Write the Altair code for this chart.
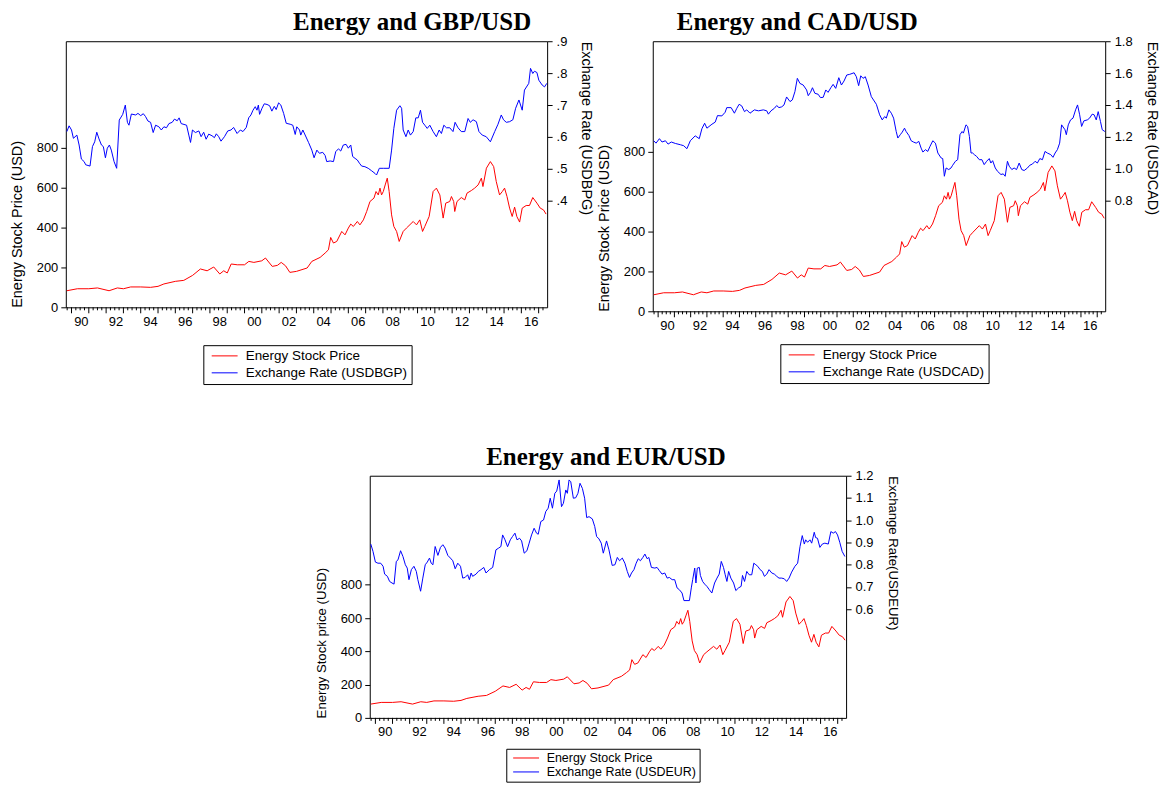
import altair as alt
import pandas as pd

# ---------------- data (decimal year, value) ----------------
energy = [
    (1989.73, 83), (1990.34, 93), (1991.00, 93), (1991.50, 97), (1992.17, 83), (1992.65, 97),
    (1993.00, 93), (1993.42, 102), (1994.00, 102), (1994.57, 100), (1995.00, 105), (1995.34, 117),
    (1996.00, 130), (1996.49, 135), (1997.00, 160), (1997.45, 192), (1997.84, 183), (1998.22, 202),
    (1998.57, 167), (1998.80, 183), (1999.00, 172), (1999.23, 217), (1999.58, 213), (2000.00, 213),
    (2000.25, 230), (2000.54, 225), (2001.00, 233), (2001.21, 247), (2001.60, 205), (2001.90, 210),
    (2002.12, 225), (2002.37, 208), (2002.62, 175), (2003.00, 180), (2003.62, 197), (2003.89, 230),
    (2004.37, 250), (2004.66, 272), (2004.85, 288), (2004.98, 350), (2005.14, 322), (2005.33, 330),
    (2005.62, 380), (2005.81, 363), (2006.00, 397), (2006.14, 417), (2006.29, 405), (2006.52, 430),
    (2006.67, 413), (2006.87, 438), (2007.06, 480), (2007.25, 530), (2007.48, 547), (2007.60, 580),
    (2007.73, 563), (2007.83, 597), (2007.92, 563), (2008.02, 580), (2008.13, 613), (2008.25, 647),
    (2008.36, 580), (2008.50, 463), (2008.63, 405), (2008.79, 380), (2008.94, 330), (2009.17, 380),
    (2009.36, 397), (2009.75, 430), (2009.94, 413), (2010.13, 438), (2010.29, 380), (2010.42, 405),
    (2010.67, 455), (2010.90, 580), (2011.09, 597), (2011.29, 563), (2011.48, 447), (2011.63, 522),
    (2011.86, 530), (2011.96, 555), (2012.09, 530), (2012.15, 480), (2012.28, 530), (2012.53, 550),
    (2012.73, 538), (2012.86, 572), (2013.11, 585), (2013.30, 597), (2013.50, 613), (2013.69, 647),
    (2013.78, 605), (2013.98, 697), (2014.21, 730), (2014.40, 705), (2014.55, 630), (2014.74, 563),
    (2014.90, 580), (2015.03, 597), (2015.17, 555), (2015.32, 497), (2015.47, 455), (2015.61, 502),
    (2015.74, 455), (2015.90, 427), (2016.05, 497), (2016.28, 510), (2016.47, 510), (2016.66, 550),
    (2016.90, 522), (2017.09, 497), (2017.28, 488), (2017.43, 467),
]

gbp = [
    (1989.73, 0.617), (1989.86, 0.635), (1990.00, 0.622), (1990.11, 0.596), (1990.31, 0.606),
    (1990.44, 0.575), (1990.57, 0.531), (1990.73, 0.523), (1990.82, 0.513), (1991.07, 0.509),
    (1991.21, 0.570), (1991.34, 0.585), (1991.46, 0.615), (1991.59, 0.594), (1991.73, 0.575),
    (1991.84, 0.570), (1991.96, 0.535), (1992.07, 0.565), (1992.19, 0.575), (1992.30, 0.559),
    (1992.46, 0.523), (1992.61, 0.502), (1992.76, 0.653), (1992.96, 0.671), (1993.11, 0.700),
    (1993.23, 0.646), (1993.32, 0.637), (1993.46, 0.672), (1993.71, 0.669), (1993.84, 0.674),
    (1994.00, 0.667), (1994.15, 0.673), (1994.28, 0.664), (1994.42, 0.650), (1994.57, 0.646),
    (1994.72, 0.614), (1994.86, 0.637), (1995.05, 0.632), (1995.19, 0.622), (1995.34, 0.632),
    (1995.49, 0.629), (1995.63, 0.642), (1995.82, 0.646), (1995.95, 0.656), (1996.11, 0.651),
    (1996.22, 0.660), (1996.34, 0.642), (1996.65, 0.637), (1996.78, 0.606), (1996.88, 0.583),
    (1996.99, 0.622), (1997.16, 0.614), (1997.36, 0.619), (1997.49, 0.601), (1997.64, 0.615),
    (1997.78, 0.593), (1997.93, 0.609), (1998.12, 0.604), (1998.26, 0.598), (1998.37, 0.610),
    (1998.51, 0.601), (1998.64, 0.587), (1998.84, 0.601), (1999.03, 0.619), (1999.22, 0.622),
    (1999.37, 0.630), (1999.57, 0.611), (1999.76, 0.622), (1999.91, 0.617), (2000.10, 0.630),
    (2000.24, 0.660), (2000.37, 0.669), (2000.49, 0.684), (2000.62, 0.695), (2000.72, 0.684),
    (2000.80, 0.700), (2000.87, 0.671), (2001.01, 0.690), (2001.14, 0.704), (2001.30, 0.702),
    (2001.45, 0.698), (2001.58, 0.681), (2001.72, 0.696), (2001.83, 0.686), (2001.97, 0.707),
    (2002.10, 0.700), (2002.26, 0.674), (2002.41, 0.643), (2002.64, 0.640), (2002.79, 0.637),
    (2002.93, 0.608), (2003.02, 0.632), (2003.18, 0.622), (2003.25, 0.606), (2003.37, 0.622),
    (2003.70, 0.583), (2003.89, 0.559), (2004.02, 0.535), (2004.18, 0.559), (2004.33, 0.549),
    (2004.52, 0.552), (2004.66, 0.542), (2004.75, 0.523), (2004.95, 0.525), (2005.14, 0.523),
    (2005.27, 0.554), (2005.43, 0.563), (2005.56, 0.556), (2005.71, 0.575), (2005.87, 0.577),
    (2006.00, 0.565), (2006.14, 0.575), (2006.25, 0.539), (2006.39, 0.533), (2006.52, 0.528),
    (2006.64, 0.518), (2006.77, 0.509), (2006.96, 0.507), (2007.15, 0.502), (2007.35, 0.494),
    (2007.54, 0.486), (2007.63, 0.481), (2007.79, 0.502), (2008.02, 0.502), (2008.36, 0.502),
    (2008.50, 0.559), (2008.63, 0.627), (2008.79, 0.684), (2008.98, 0.698), (2009.08, 0.690),
    (2009.17, 0.622), (2009.33, 0.601), (2009.46, 0.622), (2009.59, 0.606), (2009.75, 0.617),
    (2009.90, 0.660), (2010.04, 0.660), (2010.17, 0.684), (2010.29, 0.646), (2010.42, 0.637),
    (2010.56, 0.627), (2010.71, 0.637), (2010.90, 0.617), (2011.09, 0.601), (2011.25, 0.622),
    (2011.38, 0.611), (2011.52, 0.637), (2011.67, 0.629), (2011.86, 0.629), (2012.05, 0.617),
    (2012.17, 0.646), (2012.34, 0.629), (2012.53, 0.617), (2012.73, 0.617), (2012.92, 0.658),
    (2013.05, 0.646), (2013.21, 0.654), (2013.40, 0.648), (2013.55, 0.617), (2013.74, 0.606),
    (2013.97, 0.601), (2014.21, 0.585), (2014.46, 0.617), (2014.65, 0.640), (2014.84, 0.669),
    (2014.97, 0.654), (2015.13, 0.646), (2015.32, 0.648), (2015.51, 0.654), (2015.67, 0.690),
    (2015.86, 0.716), (2016.05, 0.684), (2016.18, 0.747), (2016.43, 0.768), (2016.53, 0.815),
    (2016.66, 0.799), (2016.76, 0.806), (2016.90, 0.802), (2017.01, 0.778), (2017.20, 0.763),
    (2017.34, 0.757), (2017.47, 0.768),
]

cad = [
    (1989.73, 1.175), (1989.87, 1.160), (1990.08, 1.188), (1990.24, 1.167), (1990.45, 1.175),
    (1990.61, 1.154), (1990.81, 1.167), (1991.06, 1.158), (1991.37, 1.150), (1991.57, 1.144),
    (1991.77, 1.125), (1991.98, 1.175), (1992.28, 1.206), (1992.53, 1.188), (1992.69, 1.250),
    (1992.86, 1.285), (1993.00, 1.254), (1993.31, 1.279), (1993.51, 1.292), (1993.65, 1.333),
    (1993.92, 1.331), (1994.12, 1.354), (1994.22, 1.383), (1994.49, 1.383), (1994.69, 1.348),
    (1994.84, 1.379), (1994.98, 1.404), (1995.14, 1.394), (1995.31, 1.358), (1995.45, 1.369),
    (1995.65, 1.348), (1995.92, 1.369), (1996.17, 1.363), (1996.47, 1.369), (1996.68, 1.363),
    (1996.78, 1.342), (1996.94, 1.363), (1997.15, 1.379), (1997.29, 1.396), (1997.43, 1.383),
    (1997.60, 1.388), (1997.74, 1.400), (1997.90, 1.450), (1998.11, 1.421), (1998.25, 1.431),
    (1998.41, 1.483), (1998.56, 1.567), (1998.72, 1.535), (1998.92, 1.525), (1999.13, 1.494),
    (1999.23, 1.458), (1999.37, 1.479), (1999.49, 1.508), (1999.64, 1.473), (1999.84, 1.467),
    (1999.98, 1.446), (2000.15, 1.448), (2000.31, 1.494), (2000.45, 1.479), (2000.62, 1.508),
    (2000.76, 1.529), (2000.92, 1.504), (2001.11, 1.571), (2001.27, 1.525), (2001.43, 1.550),
    (2001.60, 1.588), (2001.78, 1.592), (2002.05, 1.602), (2002.19, 1.577), (2002.33, 1.521),
    (2002.46, 1.583), (2002.60, 1.567), (2002.74, 1.577), (2002.91, 1.525), (2003.11, 1.452),
    (2003.42, 1.404), (2003.62, 1.338), (2003.78, 1.306), (2003.93, 1.327), (2004.03, 1.317),
    (2004.19, 1.369), (2004.34, 1.348), (2004.48, 1.317), (2004.64, 1.233), (2004.74, 1.192),
    (2004.89, 1.213), (2005.01, 1.229), (2005.15, 1.254), (2005.25, 1.233), (2005.42, 1.208),
    (2005.56, 1.175), (2005.70, 1.167), (2005.87, 1.160), (2006.03, 1.171), (2006.17, 1.129),
    (2006.28, 1.104), (2006.44, 1.119), (2006.58, 1.108), (2006.72, 1.140), (2006.89, 1.175),
    (2007.05, 1.160), (2007.20, 1.098), (2007.40, 1.067), (2007.50, 1.063), (2007.60, 0.952),
    (2007.71, 1.004), (2007.87, 0.994), (2008.01, 1.004), (2008.11, 1.021), (2008.28, 1.046),
    (2008.42, 1.056), (2008.56, 1.213), (2008.69, 1.233), (2008.77, 1.223), (2008.93, 1.275),
    (2009.03, 1.265), (2009.14, 1.202), (2009.24, 1.098), (2009.34, 1.098), (2009.44, 1.088),
    (2009.58, 1.077), (2009.75, 1.056), (2009.91, 1.056), (2010.05, 1.025), (2010.20, 1.046),
    (2010.36, 1.063), (2010.46, 1.035), (2010.57, 1.050), (2010.73, 1.004), (2010.87, 0.983),
    (2011.08, 0.963), (2011.22, 0.967), (2011.34, 0.952), (2011.48, 1.046), (2011.59, 1.015),
    (2011.75, 0.994), (2011.89, 1.004), (2012.04, 0.994), (2012.20, 1.035), (2012.36, 0.994),
    (2012.51, 0.988), (2012.71, 1.004), (2012.85, 1.021), (2013.02, 1.029), (2013.18, 1.046),
    (2013.32, 1.035), (2013.47, 1.063), (2013.63, 1.056), (2013.79, 1.108), (2013.93, 1.098),
    (2014.14, 1.088), (2014.28, 1.071), (2014.41, 1.098), (2014.55, 1.119), (2014.69, 1.160),
    (2014.81, 1.275), (2015.02, 1.244), (2015.10, 1.213), (2015.22, 1.275), (2015.36, 1.306),
    (2015.51, 1.317), (2015.67, 1.369), (2015.79, 1.400), (2015.92, 1.338), (2016.04, 1.265),
    (2016.18, 1.300), (2016.39, 1.306), (2016.53, 1.317), (2016.69, 1.342), (2016.81, 1.338),
    (2016.94, 1.306), (2017.06, 1.358), (2017.20, 1.296), (2017.31, 1.244), (2017.47, 1.233),
]

eur = [
    (1989.73, 0.893), (1989.86, 0.860), (1990.00, 0.812), (1990.15, 0.807), (1990.31, 0.807),
    (1990.45, 0.793), (1990.54, 0.758), (1990.70, 0.748), (1990.83, 0.725), (1990.97, 0.718),
    (1991.09, 0.713), (1991.22, 0.815), (1991.32, 0.822), (1991.47, 0.863), (1991.61, 0.837),
    (1991.75, 0.800), (1991.86, 0.785), (1991.96, 0.733), (1992.10, 0.778), (1992.25, 0.793),
    (1992.39, 0.770), (1992.48, 0.733), (1992.64, 0.681), (1992.77, 0.740), (1992.91, 0.800),
    (1993.03, 0.812), (1993.16, 0.830), (1993.26, 0.807), (1993.36, 0.800), (1993.49, 0.882),
    (1993.65, 0.842), (1993.80, 0.878), (1993.94, 0.890), (1994.07, 0.875), (1994.23, 0.842),
    (1994.38, 0.830), (1994.52, 0.818), (1994.66, 0.782), (1994.81, 0.807), (1994.97, 0.793),
    (1995.10, 0.740), (1995.24, 0.743), (1995.39, 0.755), (1995.49, 0.733), (1995.59, 0.763),
    (1995.68, 0.748), (1995.88, 0.758), (1996.01, 0.770), (1996.17, 0.778), (1996.33, 0.788),
    (1996.46, 0.763), (1996.66, 0.778), (1996.85, 0.788), (1997.04, 0.867), (1997.20, 0.875),
    (1997.33, 0.882), (1997.43, 0.934), (1997.57, 0.912), (1997.72, 0.881), (1997.88, 0.912),
    (1998.01, 0.927), (1998.15, 0.942), (1998.27, 0.912), (1998.42, 0.919), (1998.54, 0.907),
    (1998.69, 0.852), (1998.85, 0.863), (1998.98, 0.897), (1999.12, 0.934), (1999.27, 0.964),
    (1999.41, 0.942), (1999.51, 0.937), (1999.66, 0.994), (1999.82, 1.001), (1999.95, 1.039),
    (2000.09, 1.054), (2000.21, 1.099), (2000.34, 1.054), (2000.48, 1.121), (2000.59, 1.131),
    (2000.73, 1.181), (2000.87, 1.061), (2000.98, 1.076), (2001.12, 1.136), (2001.21, 1.121),
    (2001.31, 1.181), (2001.41, 1.173), (2001.56, 1.099), (2001.70, 1.101), (2001.83, 1.121),
    (2001.95, 1.166), (2002.09, 1.143), (2002.22, 1.099), (2002.34, 1.012), (2002.48, 1.016),
    (2002.67, 1.006), (2002.81, 0.972), (2002.92, 0.927), (2003.06, 0.916), (2003.19, 0.897),
    (2003.31, 0.852), (2003.39, 0.875), (2003.50, 0.907), (2003.64, 0.867), (2003.74, 0.830),
    (2003.83, 0.797), (2003.99, 0.800), (2004.13, 0.833), (2004.26, 0.818), (2004.42, 0.830),
    (2004.57, 0.807), (2004.71, 0.770), (2004.84, 0.743), (2004.96, 0.763), (2005.10, 0.778),
    (2005.23, 0.807), (2005.35, 0.827), (2005.48, 0.818), (2005.62, 0.833), (2005.74, 0.848),
    (2005.87, 0.827), (2005.97, 0.833), (2006.12, 0.788), (2006.32, 0.785), (2006.45, 0.788),
    (2006.59, 0.773), (2006.74, 0.758), (2006.90, 0.763), (2007.04, 0.740), (2007.17, 0.743),
    (2007.33, 0.733), (2007.48, 0.733), (2007.62, 0.696), (2007.75, 0.688), (2007.91, 0.673),
    (2008.02, 0.639), (2008.20, 0.639), (2008.34, 0.639), (2008.45, 0.696), (2008.53, 0.733),
    (2008.65, 0.785), (2008.72, 0.718), (2008.80, 0.785), (2008.92, 0.788), (2008.98, 0.752),
    (2009.11, 0.725), (2009.23, 0.713), (2009.36, 0.703), (2009.50, 0.688), (2009.65, 0.673),
    (2009.81, 0.718), (2009.95, 0.740), (2010.08, 0.758), (2010.20, 0.815), (2010.33, 0.788),
    (2010.43, 0.755), (2010.53, 0.725), (2010.63, 0.770), (2010.76, 0.740), (2010.92, 0.718),
    (2011.05, 0.684), (2011.21, 0.696), (2011.36, 0.703), (2011.44, 0.752), (2011.56, 0.725),
    (2011.69, 0.770), (2011.83, 0.755), (2011.98, 0.755), (2012.10, 0.807), (2012.22, 0.800),
    (2012.33, 0.793), (2012.47, 0.778), (2012.60, 0.770), (2012.72, 0.748), (2012.86, 0.758),
    (2012.99, 0.778), (2013.15, 0.763), (2013.30, 0.758), (2013.44, 0.748), (2013.57, 0.740),
    (2013.73, 0.740), (2013.88, 0.737), (2014.02, 0.725), (2014.16, 0.740), (2014.31, 0.767),
    (2014.50, 0.793), (2014.66, 0.807), (2014.80, 0.882), (2014.93, 0.931), (2015.05, 0.893),
    (2015.13, 0.912), (2015.24, 0.901), (2015.38, 0.912), (2015.48, 0.897), (2015.63, 0.946),
    (2015.71, 0.922), (2015.82, 0.919), (2015.96, 0.878), (2016.10, 0.893), (2016.25, 0.897),
    (2016.45, 0.893), (2016.60, 0.949), (2016.74, 0.942), (2016.87, 0.949), (2016.99, 0.934),
    (2017.12, 0.901), (2017.26, 0.860), (2017.42, 0.837),
]

left_ticks = [0, 200, 400, 600, 800]
gbp_ticks = [0.4, 0.5, 0.6, 0.7, 0.8, 0.9]
cad_ticks = [0.8, 1.0, 1.2, 1.4, 1.6, 1.8]
eur_ticks = [0.6, 0.7, 0.8, 0.9, 1.0, 1.1, 1.2]

X0, X1 = 1989.67, 2017.49
x_label_pos = [y + 0.54 for y in range(1990, 2017, 2)]
major_ticks = list(range(1990, 2018))
minor_ticks = [y + q for y in range(1989, 2018) for q in (0.25, 0.5, 0.75) if X0 <= y + q <= X1]

FONT = "Liberation Sans"
SERIF = "Liberation Serif"
RED = "#ff0000"
BLUE = "#0000ff"


def panel(fx, fx_name, left_title, right_title, title, title_dx, w, h,
          left_max, r_dom, r_vals, r_expr, lx, ly, afs, tfs, lfs, lpad, lrow):
    e_df = pd.DataFrame(energy, columns=["t", "v"])
    e_df["s"] = "Energy Stock Price"
    f_df = pd.DataFrame(fx, columns=["t", "v"])
    f_df["s"] = fx_name

    xenc = alt.X(
        "t:Q",
        scale=alt.Scale(domain=[X0, X1], nice=False, zero=False),
        axis=alt.Axis(values=x_label_pos,
                      labelExpr="slice('0' + (floor(datum.value) % 100), -2)",
                      ticks=False, domain=False, grid=False, title=None,
                      labelPadding=8, labelFontSize=afs, labelFont=FONT,
                      labelColor="black", labelFlush=False),
    )
    color = alt.Color(
        "s:N",
        scale=alt.Scale(domain=["Energy Stock Price", fx_name], range=[RED, BLUE]),
        legend=alt.Legend(title=None, orient="none", legendX=lx, legendY=ly,
                          direction="vertical", symbolType="M-1,0H5", symbolSize=75,
                          symbolStrokeWidth=1, symbolOffset=2, labelOffset=23,
                          labelFont=FONT, labelFontSize=lfs, labelColor="black",
                          labelLimit=400, rowPadding=lrow, padding=lpad,
                          strokeColor="black", fillColor="white"),
    )
    red = alt.Chart(e_df).mark_line(strokeWidth=1).encode(
        x=xenc,
        y=alt.Y("v:Q", scale=alt.Scale(domain=[0, left_max], nice=False, zero=False),
                axis=alt.Axis(orient="left", values=left_ticks, title=left_title,
                              titleAnchor="start", tickSize=5, labelPadding=3,
                              titlePadding=12, labelFontSize=afs, titleFontSize=tfs,
                              grid=False, domain=False)),
        color=color,
    )
    blue = alt.Chart(f_df).mark_line(strokeWidth=1).encode(
        x=xenc,
        y=alt.Y("v:Q", scale=alt.Scale(domain=r_dom, nice=False, zero=False),
                axis=alt.Axis(orient="right", values=r_vals, labelExpr=r_expr,
                              title=right_title, titleAnchor="end", titleAlign="left",
                              tickSize=5, labelPadding=4, titlePadding=12,
                              labelFontSize=afs, titleFontSize=tfs, grid=False,
                              domain=False)),
        color=color,
    )
    tmaj = alt.Chart(pd.DataFrame({"t": major_ticks})).mark_rule(
        color="black", strokeWidth=1).encode(x=xenc, y=alt.value(h), y2=alt.value(h + 6))
    tmin = alt.Chart(pd.DataFrame({"t": minor_ticks})).mark_rule(
        color="black", strokeWidth=1).encode(x=xenc, y=alt.value(h), y2=alt.value(h + 3))

    return alt.layer(red, blue, tmaj, tmin).resolve_scale(y="independent").properties(
        width=w, height=h,
        title=alt.Title(title, font=SERIF, fontSize=25, fontWeight="bold", color="black",
                        anchor="middle", frame="group", dx=title_dx, offset=0),
    )


p1 = panel(gbp, "Exchange Rate (USDBGP)", "Energy Stock Price (USD)", "Exchange Rate (USDBPG)",
           "Energy and GBP/USD", 106, 483, 267, 1333, [0.0666, 0.9], gbp_ticks,
           "substring(format(datum.value, '.1f'), 1)", 138, 305, 13, 14.5, 13.5, 4, 2)
p2 = panel(cad, "Exchange Rate (USDCAD)", "Energy Stock Price (USD)", "Exchange Rate (USDCAD)",
           "Energy and CAD/USD", -82, 454, 271, 1356, [0.104, 1.8], cad_ticks,
           "format(datum.value, '.1f')", 128, 304, 13, 14.5, 13.5, 4, 2)
p3 = panel(eur, "Exchange Rate (USDEUR)", "Energy Stock price (USD)", "Exchange Rate(USDEUR)",
           "Energy and EUR/USD", -2, 478, 243, 1456, [0.112, 1.2], eur_ticks,
           "format(datum.value, '.1f')", 137, 274, 13, 13.2, 12.5, 3, 1)

spacer = alt.Chart(pd.DataFrame({"t": [0]})).mark_point(opacity=0).encode(
    x=alt.X("t:Q", axis=None), y=alt.Y("t:Q", axis=None)
).properties(width=305, height=10, view=alt.ViewBackground(strokeOpacity=0))

res = dict(color="independent", x="independent", y="independent")
top = alt.hconcat(p1, p2, spacing=106, bounds="flush").resolve_scale(**res)
bottom = alt.hconcat(spacer, p3, spacing=0, bounds="flush").resolve_scale(**res)

chart = alt.vconcat(top, bottom, spacing=59).resolve_scale(**res).properties(
    padding=0
).configure_view(stroke="black", strokeWidth=1).configure_axis(
    labelFont=FONT, titleFont=FONT, labelColor="black", titleColor="black",
    titleFontWeight="normal", tickColor="black"
)

chart.save("out.html", embed_options={"renderer": "svg", "actions": False})
